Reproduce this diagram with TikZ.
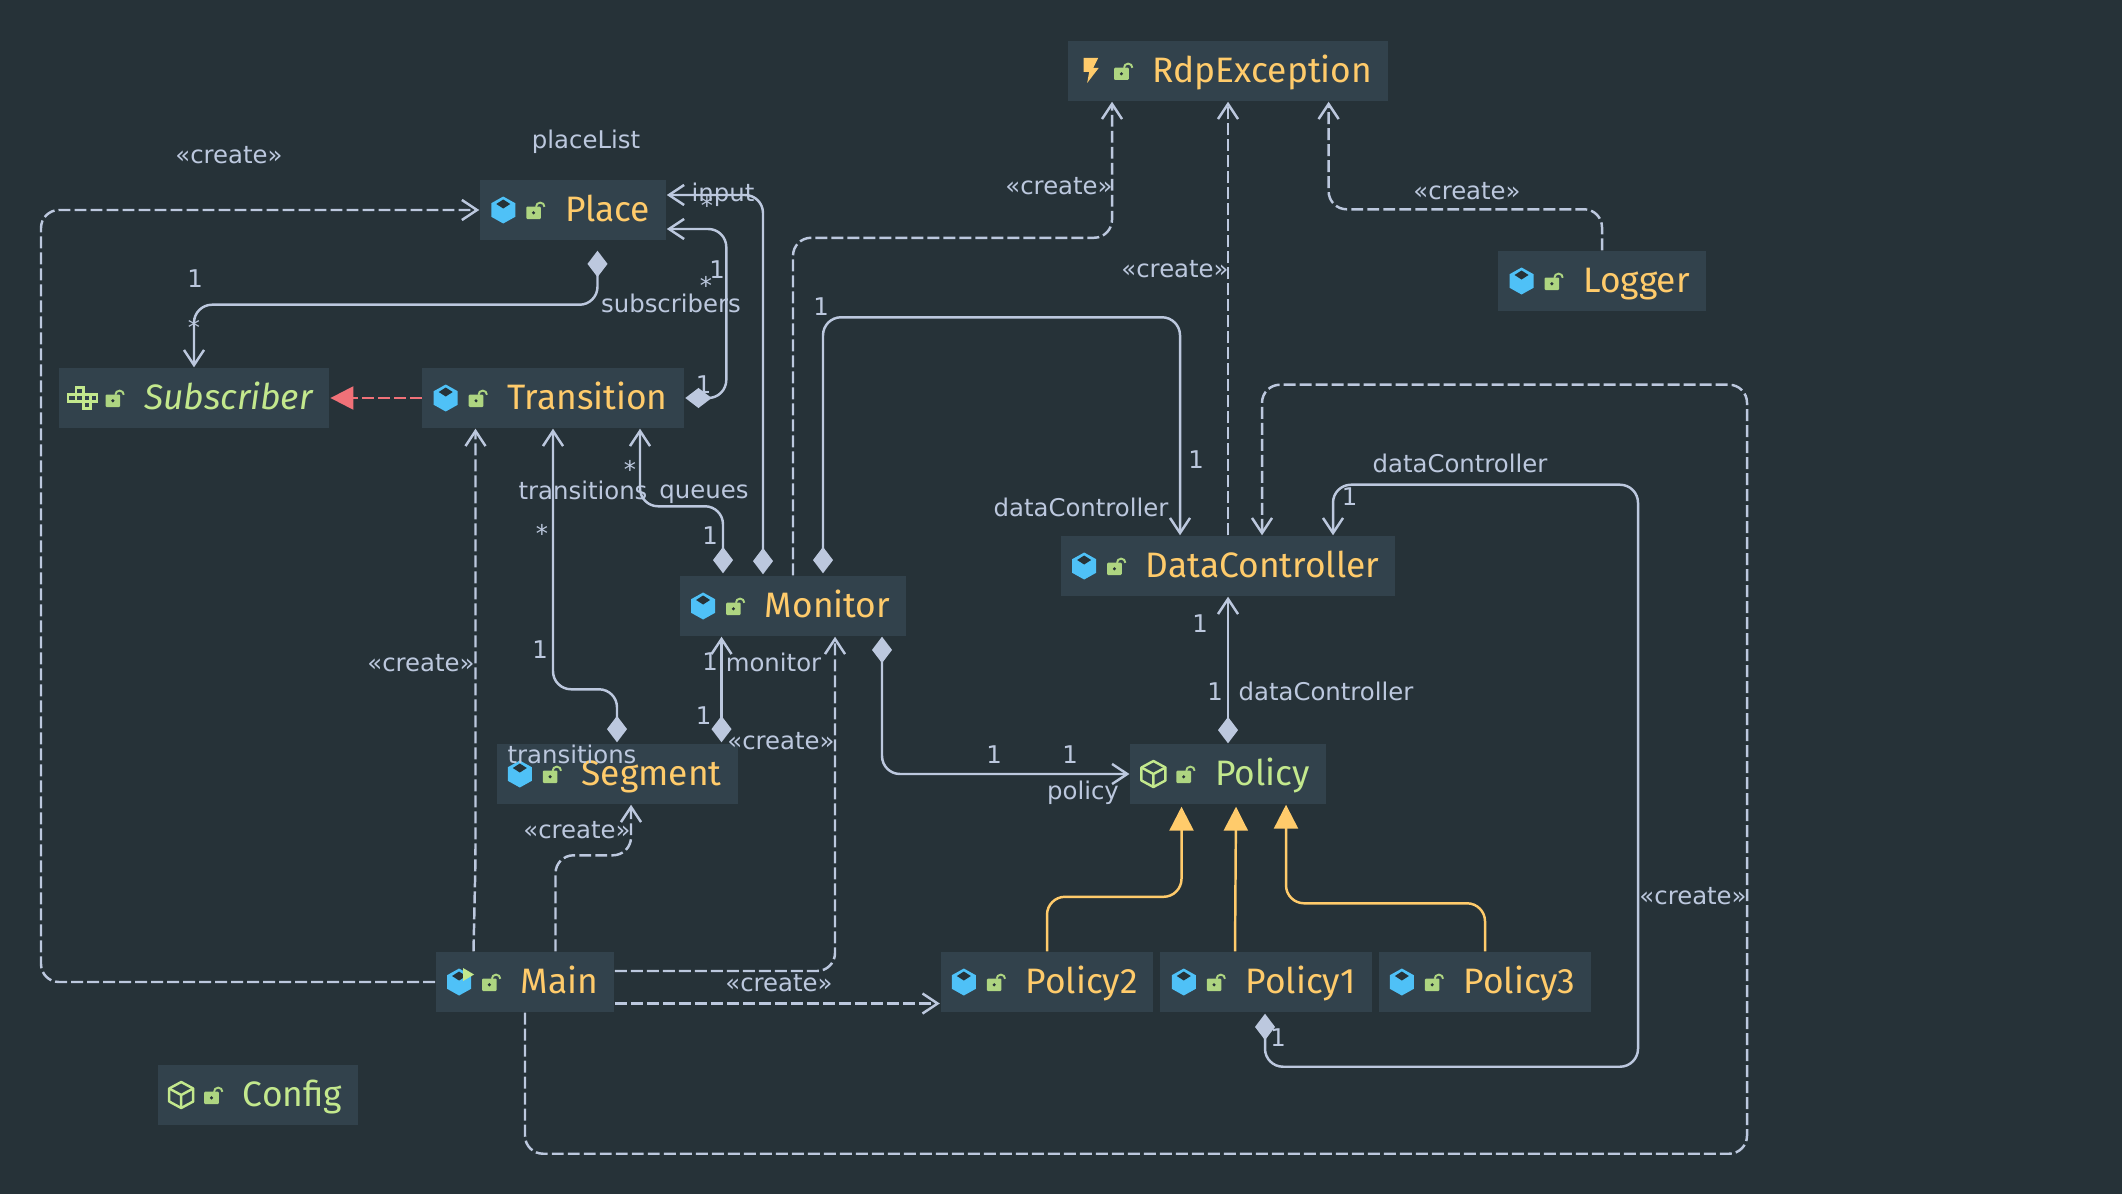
\documentclass[tikz,border=0pt]{standalone}
\usepackage{fontspec}
\setmainfont{DejaVu Sans}
\newfontfamily\titlefont{Fira Sans}
\usetikzlibrary{arrows.meta}
\definecolor{pagebg}{HTML}{263238}
\definecolor{boxbg}{HTML}{32424C}
\definecolor{linecol}{HTML}{BCC8DE}
\definecolor{classcol}{HTML}{FFCB6B}
\definecolor{faccol}{HTML}{C3E88D}
\definecolor{lockcol}{HTML}{AED581}
\definecolor{iconblue}{HTML}{4FC1F7}
\definecolor{pinkcol}{HTML}{F07178}
\newcommand{\classname}[1]{\hspace{0.69cm}#1}
\tikzset{
  class node/.style={rectangle,fill=boxbg,minimum height=0.6cm,inner xsep=0.16cm,inner ysep=0pt,
                     text height=0.33cm,text depth=0.1cm,text=classcol,font=\titlefont\fontsize{10.05}{12}\selectfont},
  face node/.style={class node,text=faccol},
  role node/.style={inner sep=0pt,text=linecol,font=\fontsize{6.93}{8}\selectfont},
  assoc/.style={draw=linecol,line width=0.7pt,rounded corners=0.18cm,-{Straight Barb[length=4.3pt,width=5.7pt]}},
  own/.style={assoc,{Diamond[length=7.5pt,width=5.7pt,fill=linecol]}-{Straight Barb[length=4.3pt,width=5.7pt]}},
  create/.style={assoc,dash pattern=on 3.4pt off 1.15pt},
  inherit/.style={draw=classcol,line width=0.7pt,rounded corners=0.18cm,-{Triangle[length=6.8pt,width=6.8pt,fill=classcol]}},
  implement/.style={draw=pinkcol,line width=0.7pt,dash pattern=on 3.4pt off 1.15pt,-{Triangle[length=6.5pt,width=6.5pt,fill=pinkcol]}},
  pics/lockicon/.style={code={
    \fill[lockcol,rounded corners=0.3pt] (-7.3,-6.2) rectangle (7.3,6.2);
    \draw[lockcol,line width=0.55pt] (2.5,-6) arc[start angle=180,end angle=360,radius=4.2];
    \fill[pagebg] (0,0) circle (1.7);
  }},
  pics/classicon/.style={code={
    \fill[iconblue] (0,-13.5) -- (12,-6.8) -- (12,6.8) -- (0,13.5) -- (-12,6.8) -- (-12,-6.8) -- cycle;
    \fill[pagebg] (-7,-6) -- (0,-10.5) -- (7,-6) -- (0,-1.5) -- cycle;
  }},
  pics/mainicon/.style={code={
    \fill[iconblue] (0,-13.5) -- (12,-6.8) -- (12,6.8) -- (0,13.5) -- (-12,6.8) -- (-12,-6.8) -- cycle;
    \fill[pagebg] (-7,-6) -- (0,-10.5) -- (7,-6) -- (0,-1.5) -- cycle;
    \fill[faccol] (4,-14) -- (15,-7.5) -- (4,-1) -- cycle;
  }},
  pics/faceicon/.style={code={
    \draw[faccol,line width=0.7pt,line join=round] (0,-13) -- (12,-6.5) -- (12,6.5) -- (0,13) -- (-12,6.5) -- (-12,-6.5) -- cycle;
    \draw[faccol,line width=0.7pt,line join=round] (-12,-6.5) -- (0,0) -- (12,-6.5) (0,0) -- (0,13);
  }},
  pics/traiticon/.style={code={
    \draw[faccol,line width=0.7pt] (-6.5,-10.5) rectangle (1,-3.5);
    \draw[faccol,line width=0.7pt] (-14.5,-3.5) rectangle (-6.5,3.5);
    \draw[faccol,line width=0.7pt] (-6.5,-3.5) rectangle (1,3.5);
    \draw[faccol,line width=0.7pt] (1,-3.5) rectangle (8,3.5);
    \draw[faccol,line width=0.7pt] (8,-3.5) rectangle (14.5,3.5);
    \draw[faccol,line width=0.7pt] (1,3.5) rectangle (8,10.5);
  }},
  pics/bolticon/.style={code={
    \fill[classcol] (-7.5,-13) -- (7,-13) -- (2,-3) -- (7.5,-3) -- (-4,12) -- (-2,1) -- (-7.5,1) -- cycle;
  }},
}
\begin{document}
\begin{tikzpicture}[x=0.01cm,y=-0.01cm]
  \useasboundingbox[fill=pagebg] (0,0) rectangle (2122,1194);
  \node[class node] (RdpException) at (1228,71) {\classname{RdpException}};
  \node[class node] (Place) at (573,210) {\classname{Place}};
  \node[class node] (Logger) at (1602,281) {\classname{Logger}};
  \node[face node] (Subscriber) at (194,398) {\classname{\itshape Subscriber}};
  \node[class node] (Transition) at (553,398) {\classname{Transition}};
  \node[class node] (DataController) at (1228,566) {\classname{DataController}};
  \node[class node] (Monitor) at (793,606) {\classname{Monitor}};
  \node[class node] (Segment) at (617,774) {\classname{Segment}};
  \node[face node] (Policy) at (1228,774) {\classname{Policy}};
  \node[class node] (Main) at (525,982) {\classname{Main}};
  \node[class node] (Policy2) at (1047,982) {\classname{Policy2}};
  \node[class node] (Policy1) at (1266,982) {\classname{Policy1}};
  \node[class node] (Policy3) at (1485,982) {\classname{Policy3}};
  \node[face node] (Config) at (258,1095) {\classname{Config}};
  \pic at ([shift={(24,0)}]RdpException.west) {bolticon};
  \pic at ([shift={(54.3,2.8)}]RdpException.west) {lockicon};
  \pic at ([shift={(24,0)}]Place.west) {classicon};
  \pic at ([shift={(54.3,2.8)}]Place.west) {lockicon};
  \pic at ([shift={(24,0)}]Logger.west) {classicon};
  \pic at ([shift={(54.3,2.8)}]Logger.west) {lockicon};
  \pic at ([shift={(24,0)}]Subscriber.west) {traiticon};
  \pic at ([shift={(54.3,2.8)}]Subscriber.west) {lockicon};
  \pic at ([shift={(24,0)}]Transition.west) {classicon};
  \pic at ([shift={(54.3,2.8)}]Transition.west) {lockicon};
  \pic at ([shift={(24,0)}]DataController.west) {classicon};
  \pic at ([shift={(54.3,2.8)}]DataController.west) {lockicon};
  \pic at ([shift={(24,0)}]Monitor.west) {classicon};
  \pic at ([shift={(54.3,2.8)}]Monitor.west) {lockicon};
  \pic at ([shift={(24,0)}]Segment.west) {classicon};
  \pic at ([shift={(54.3,2.8)}]Segment.west) {lockicon};
  \pic at ([shift={(24,0)}]Policy.west) {faceicon};
  \pic at ([shift={(54.3,2.8)}]Policy.west) {lockicon};
  \pic at ([shift={(24,0)}]Main.west) {mainicon};
  \pic at ([shift={(54.3,2.8)}]Main.west) {lockicon};
  \pic at ([shift={(24,0)}]Policy2.west) {classicon};
  \pic at ([shift={(54.3,2.8)}]Policy2.west) {lockicon};
  \pic at ([shift={(24,0)}]Policy1.west) {classicon};
  \pic at ([shift={(54.3,2.8)}]Policy1.west) {lockicon};
  \pic at ([shift={(24,0)}]Policy3.west) {classicon};
  \pic at ([shift={(54.3,2.8)}]Policy3.west) {lockicon};
  \pic at ([shift={(24,0)}]Config.west) {faceicon};
  \pic at ([shift={(54.3,2.8)}]Config.west) {lockicon};
  \coordinate (leftRail) at (41,600);
  \draw[create] (Main.west) -| (leftRail) |- (Place.west);
  \draw[create] ([shift={(-51.5,0)}]Main.north) -- ++(2,-92) -- ([shift={(-77.5,0)}]Transition.south);
  \draw[create] ([shift={(30.5,0)}]Main.north) -- ++(0,-96) -| ([shift={(14,0)}]Segment.south);
  \draw[create] ([shift={(0,-11)}]Main.east) -| ([shift={(42,0)}]Monitor.south);
  \draw[create] ([shift={(0,21.5)}]Main.east) -- ([shift={(0,21.5)}]Policy2.west);
  \draw[create] (Main.south) -- ++(0,141) -- ++(1222,0) -- ++(0,-769) -| ([shift={(34,0)}]DataController.north);
  \draw[create] (Monitor.north) -- ++(0,-337.5) -| ([shift={(-116,0)}]RdpException.south);
  \draw[create] (DataController.north) -- (RdpException.south);
  \draw[create] (Logger.north) -- ++(0,-41) -| ([shift={(100.6,0)}]RdpException.south);
  \draw[own] ([shift={(24.5,10)}]Place.south) -- ++(0,54) -| (Subscriber.north);
  \draw[own] ([shift={(1,0)}]Transition.east) -- ++(41,0) |- ([shift={(0,19)}]Place.east);
  \draw[own] ([shift={(-30,-1)}]Monitor.north) |- ([shift={(0,-15)}]Place.east);
  \draw[own] ([shift={(-70,-2)}]Monitor.north) -- ++(0,-67) -| ([shift={(87,0)}]Transition.south);
  \draw[own] ([shift={(30,-2)}]Monitor.north) -- ++(0,-256) -| ([shift={(-48,0)}]DataController.north);
  \draw[own] ([shift={(89,0)}]Monitor.south) |- (Policy.west);
  \draw[own] ([shift={(0,-1)}]Segment.north) -- ++(0,-53) -| (Transition.south);
  \draw[own] ([shift={(104.5,-1)}]Segment.north) -- ([shift={(-71.5,0)}]Monitor.south);
  \draw[own] (Policy.north) -- (DataController.south);
  \draw[own] ([shift={(-1,1)}]Policy1.south) -- ++(0,53) -- ++(373,0) -- ++(0,-582) -| ([shift={(105,0)}]DataController.north);
  \draw[inherit] (Policy2.north) -- ++(0,-54.5) -| ([shift={(-46.5,2)}]Policy.south);
  \draw[inherit] ([shift={(-31,0)}]Policy1.north) -- ([shift={(8,2)}]Policy.south);
  \draw[inherit] (Policy3.north) -- ++(0,-48) -| ([shift={(58,0)}]Policy.south);
  \draw[implement] (Transition.west) -- ([shift={(1,0)}]Subscriber.east);
  \node[role node] (lblMainPlace) at (229,155) {«create»};
  \node[role node] (lblPlaceList) at (586,141.5) {placeList};
  \node[role node] (lblInput) at (723,195) {input};
  \node[role node] (lblInputStar) at (707,205) {*};
  \node[role node] (lblSubsOne) at (195,279) {1};
  \node[role node] (lblSubsStar) at (194,327) {*};
  \node[role node] (lblTransOne) at (717,270) {1};
  \node[role node] (lblTransStar) at (706,285) {*};
  \node[role node] (lblSubscribers) at (671,303) {subscribers};
  \node[role node] (lblTransEnd) at (703.5,385) {1};
  \node[role node] (lblMainTrans) at (421,663) {«create»};
  \node[role node] (lblTransitions) at (583,490) {transitions};
  \node[role node] (lblQueues) at (704,494) {queues};
  \node[role node] (lblQueueStar) at (630,469) {*};
  \node[role node] (lblQueueOne) at (710,536) {1};
  \node[role node] (lblSegStar) at (542,533) {*};
  \node[role node] (lblSegOne) at (540,650) {1};
  \node[role node] (lblSegTrans) at (572,754) {transitions};
  \node[role node] (lblMonOne) at (710,662) {1};
  \node[role node] (lblMonitor) at (773.5,662) {monitor};
  \node[role node] (lblSegMon) at (703.6,716) {1};
  \node[role node] (lblMainMon) at (781,741) {«create»};
  \node[role node] (lblMainSeg) at (577,830) {«create»};
  \node[role node] (lblMainPol) at (779,983.6) {«create»};
  \node[role node] (lblPolOne) at (994,755) {1};
  \node[role node] (lblPolTwo) at (1070,755) {1};
  \node[role node] (lblPolicy) at (1083,793) {policy};
  \node[role node] (lblMonRdp) at (1059,186) {«create»};
  \node[role node] (lblDcRdp) at (1175,269.5) {«create»};
  \node[role node] (lblLogRdp) at (1467,191.5) {«create»};
  \node[role node] (lblMonDcOne) at (821,307) {1};
  \node[role node] (lblMonDcTwo) at (1196,460) {1};
  \node[role node] (lblMonDc) at (1081,507) {dataController};
  \node[role node] (lblSelfDc) at (1460,463) {dataController};
  \node[role node] (lblSelfOne) at (1349.5,497) {1};
  \node[role node] (lblPolDcOne) at (1200,624) {1};
  \node[role node] (lblPolDcTwo) at (1215,691.5) {1};
  \node[role node] (lblPolDc) at (1326,691.5) {dataController};
  \node[role node] (lblMainDc) at (1693,896) {«create»};
  \node[role node] (lblPolOneDc) at (1278,1038) {1};
\end{tikzpicture}
\end{document}
